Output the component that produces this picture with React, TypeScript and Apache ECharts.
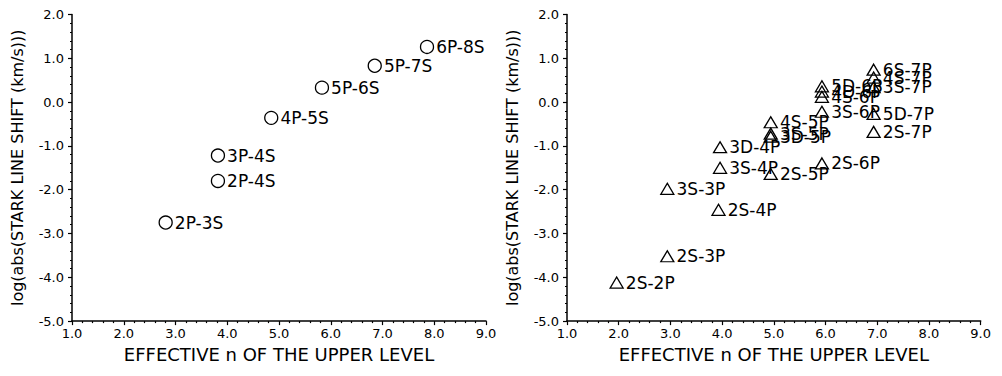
import React, { useEffect, useRef } from "react";
import * as echarts from "echarts";

const leftLabels = ["2P-3S", "2P-4S", "3P-4S", "4P-5S", "5P-6S", "5P-7S", "6P-8S"];
const leftX = [2.81, 3.82, 3.82, 4.85, 5.83, 6.85, 7.86];
const leftY = [-2.75, -1.8, -1.22, -0.36, 0.33, 0.83, 1.26];

const rightLabels = [
  "2S-2P", "2S-3P", "2S-4P", "3S-3P", "3S-4P", "3D-4P",
  "2S-5P", "4S-5P", "3S-5P", "3D-5P",
  "2S-6P", "3S-6P", "4S-6P", "4D-6P", "5D-6P",
  "2S-7P", "5D-7P", "3S-7P", "4S-7P", "6S-7P",
];
const rightX = [
  1.96, 2.94, 3.93, 2.94, 3.96, 3.96,
  4.94, 4.94, 4.94, 4.94,
  5.93, 5.93, 5.93, 5.93, 5.93,
  6.93, 6.93, 6.93, 6.93, 6.93,
];
const rightY = [
  -4.12, -3.52, -2.46, -1.98, -1.5, -1.03,
  -1.64, -0.46, -0.72, -0.79,
  -1.4, -0.22, 0.12, 0.24, 0.36,
  -0.68, -0.27, 0.34, 0.56, 0.74,
];

const xName = "EFFECTIVE n OF THE UPPER LEVEL";
const yName = "log(abs(STARK LINE SHIFT (km/s)))";

const FONT = "DejaVu Sans";

function makeX(gridIndex: number) {
  return {
    type: "value",
    gridIndex,
    min: 1,
    max: 9,
    interval: 1,
    name: xName,
    nameLocation: "middle",
    nameGap: 23,
    nameTextStyle: { fontFamily: FONT, fontSize: 18, color: "#000" },
    axisLine: { show: true, onZero: false, lineStyle: { color: "#000", width: 1.5 } },
    axisTick: { show: true, inside: false, length: 4, lineStyle: { color: "#000", width: 1.2 } },
    minorTick: { show: true, splitNumber: 5, length: 2, lineStyle: { color: "#000", width: 1.2 } },
    splitLine: { show: false },
    axisLabel: {
      fontFamily: FONT,
      fontSize: 13,
      color: "#000",
      margin: 6,
      formatter: (v: number) => v.toFixed(1),
    },
  };
}

function makeY(gridIndex: number) {
  return {
    type: "value",
    gridIndex,
    min: -5,
    max: 2,
    interval: 1,
    name: yName,
    nameLocation: "middle",
    nameGap: 47,
    nameTextStyle: { fontFamily: FONT, fontSize: 16, color: "#000" },
    axisLine: { show: true, onZero: false, lineStyle: { color: "#000", width: 1.5 } },
    axisTick: { show: true, inside: false, length: 4, lineStyle: { color: "#000", width: 1.2 } },
    minorTick: { show: true, splitNumber: 5, length: 2, lineStyle: { color: "#000", width: 1.2 } },
    splitLine: { show: false },
    axisLabel: {
      fontFamily: FONT,
      fontSize: 13,
      color: "#000",
      margin: 8,
      formatter: (v: number) => v.toFixed(1),
    },
  };
}

function pts(xs: number[], ys: number[], names: string[]) {
  return xs.map((x, i) => ({ value: [x, ys[i]], name: names[i] }));
}

export default function App() {
  const ref = useRef<HTMLDivElement>(null);
  useEffect(() => {
    if (!ref.current) return;
    const chart = echarts.init(ref.current, null, { renderer: "svg" });
    const label = {
      show: true,
      position: "right",
      distance: 2,
      fontFamily: FONT,
      fontSize: 17,
      color: "#000",
      formatter: (p: any) => p.name,
    };
    chart.setOption({
      animation: false,
      backgroundColor: "#fff",
      grid: [
        { left: 62, top: 2, width: 416, height: 324 },
        { left: 559, top: 3, width: 418, height: 322 },
      ],
      xAxis: [makeX(0), makeX(1)],
      yAxis: [makeY(0), makeY(1)],
      series: [
        {
          type: "scatter",
          xAxisIndex: 0,
          yAxisIndex: 0,
          symbol: "circle",
          symbolSize: 13,
          itemStyle: { color: "transparent", borderColor: "#000", borderWidth: 1.3, opacity: 1 },
          label,
          data: pts(leftX, leftY, leftLabels),
        },
        {
          type: "scatter",
          xAxisIndex: 1,
          yAxisIndex: 1,
          symbol: "triangle",
          symbolSize: [13, 11],
          itemStyle: { color: "transparent", borderColor: "#000", borderWidth: 1.3, opacity: 1 },
          label,
          labelLayout: { hideOverlap: false },
          data: pts(rightX, rightY, rightLabels),
        },
      ],
    });
    return () => chart.dispose();
  }, []);
  return <div ref={ref} style={{ width: 986, height: 360 }} />;
}
